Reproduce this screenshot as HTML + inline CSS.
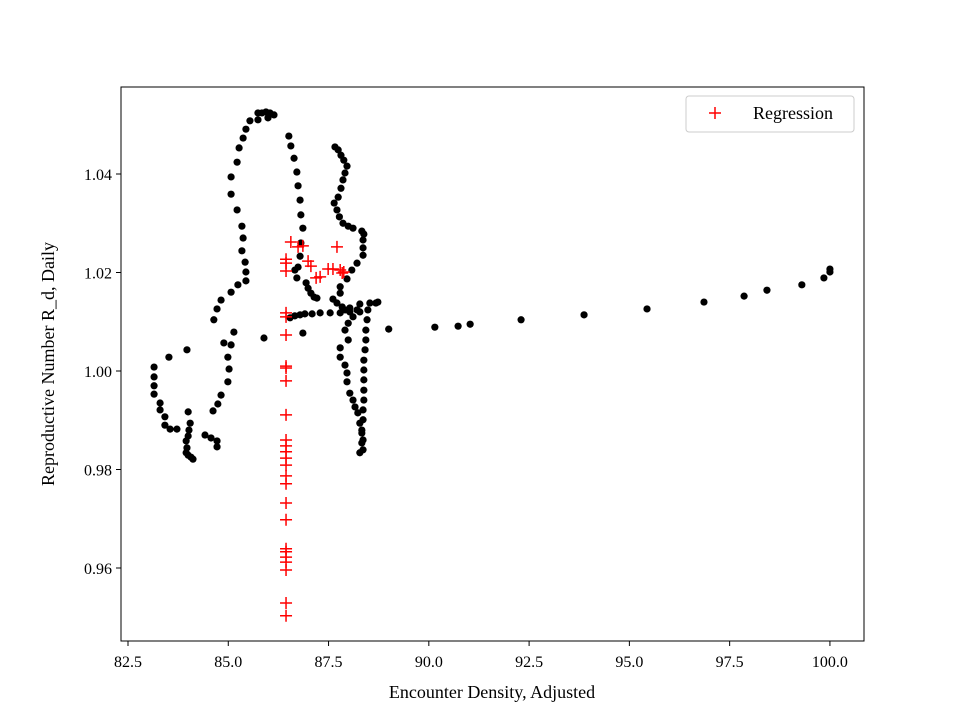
<!DOCTYPE html>
<html><head><meta charset="utf-8"><style>
body{margin:0;background:#fff}
text{font-family:"Liberation Serif",serif;fill:#000}
</style></head><body>
<svg id="chart" width="960" height="720" xmlns="http://www.w3.org/2000/svg">
<rect width="960" height="720" fill="#fff"/>
<g id="marks"></g>
<rect x="121" y="87" width="743" height="554" fill="none" stroke="#000" stroke-width="1"/>
<g id="axes"></g>
<text x="492" y="698" text-anchor="middle" font-size="18">Encounter Density, Adjusted</text>
<text transform="translate(54,364) rotate(-90)" text-anchor="middle" font-size="18">Reproductive Number R_d, Daily</text>
<g>
<rect x="686" y="96" width="168" height="36" rx="3" fill="#fff" stroke="#ccc"/>
<path d="M709 113h12M715 107v12" stroke="#f00" stroke-width="1.5"/>
<text x="753" y="119" font-size="18">Regression</text>
</g>
</svg>
<script>
const blackX=[85.74,85.84,85.94,86.04,86.14,85.74,85.99,85.54,85.44,85.37,85.27,85.22,85.07,85.07,85.22,85.34,85.37,85.34,85.42,85.44,85.44,85.24,85.07,84.82,84.72,84.64,84.89,85.07,84.99,85.02,84.99,84.82,84.74,84.62,85.14,
83.15,83.15,83.15,83.15,83.30,83.30,83.42,83.42,83.55,83.72,84.0,84.05,84.02,84.0,83.95,83.97,84.0,84.07,84.12,83.95,84.42,84.57,84.72,84.72,83.52,83.97,85.89,86.86,
86.51,86.56,86.64,86.71,86.74,86.79,86.81,86.86,86.81,86.79,86.74,86.66,86.71,86.94,86.99,87.06,87.14,87.21,
86.54,86.66,86.79,86.91,87.09,87.29,87.54,87.79,88.03,88.28,
87.66,87.74,87.81,87.88,87.96,87.91,87.86,87.81,87.74,87.64,87.71,87.77,87.86,87.99,88.11,88.33,88.38,88.36,88.36,88.36,88.21,88.08,87.96,87.79,87.79,87.61,87.71,87.84,87.91,88.03,88.28,88.21,88.11,87.99,87.91,87.99,87.79,87.79,87.91,87.96,87.96,88.03,88.11,88.16,88.23,88.28,88.33,88.33,88.28,
88.53,88.68,88.73,88.48,88.46,88.43,88.43,88.41,88.38,88.38,88.38,88.38,88.38,88.36,88.36,88.33,88.36,88.36,89.0,
90.15,90.73,91.03,92.30,93.87,95.44,96.86,97.86,98.43,99.30,99.85,100.0,100.0];
const blackY=[1.0524,1.0524,1.0526,1.0524,1.0520,1.0510,1.0514,1.0508,1.0491,1.0473,1.0453,1.0424,1.0394,1.0359,1.0327,1.0294,1.0270,1.0244,1.0221,1.0201,1.0183,1.0175,1.0160,1.0144,1.0126,1.0104,1.0057,1.0053,1.0028,1.0004,0.9978,0.9951,0.9933,0.9919,1.0079,
1.0008,0.9988,0.9970,0.9953,0.9935,0.9921,0.9907,0.9890,0.9882,0.9882,0.9917,0.9894,0.9880,0.9868,0.9858,0.9844,0.9829,0.9825,0.9821,0.9834,0.9870,0.9864,0.9858,0.9846,1.0028,1.0043,1.0067,1.0077,
1.0477,1.0457,1.0432,1.0404,1.0376,1.0347,1.0317,1.0290,1.0260,1.0233,1.0211,1.0205,1.0189,1.0179,1.0168,1.0158,1.0150,1.0148,
1.0108,1.0112,1.0114,1.0116,1.0116,1.0118,1.0118,1.0118,1.0120,1.0120,
1.0455,1.0449,1.0438,1.0428,1.0416,1.0402,1.0388,1.0371,1.0353,1.0341,1.0327,1.0313,1.0300,1.0294,1.0290,1.0284,1.0278,1.0266,1.0250,1.0235,1.0219,1.0205,1.0187,1.0171,1.0158,1.0146,1.0138,1.0130,1.0124,1.0128,1.0136,1.0124,1.0110,1.0097,1.0083,1.0063,1.0047,1.0028,1.0012,0.9996,0.9978,0.9955,0.9941,0.9927,0.9915,0.9894,0.9874,0.9854,0.9834,
1.0138,1.0138,1.0140,1.0124,1.0104,1.0083,1.0063,1.0043,1.0022,1.0002,0.9982,0.9961,0.9941,0.9921,0.9901,0.9880,0.9860,0.9840,1.0085,
1.0089,1.0091,1.0095,1.0104,1.0114,1.0126,1.0140,1.0152,1.0164,1.0175,1.0189,1.0201,1.0207];
const redX=[86.44,86.44,86.44,86.44,86.44,86.44,86.44,86.44,86.44,86.44,86.44,86.44,86.44,86.44,86.44,86.44,86.44,86.44,86.44,86.44,86.44,86.44,86.44,86.44,86.44,86.44,
86.56,86.74,86.86,86.99,87.06,87.19,87.29,87.49,87.61,87.71,87.79,87.84,87.88];
const redY=[0.9503,0.9529,0.9596,0.9612,0.9622,0.9633,0.9639,0.9698,0.9732,0.9771,0.9787,0.9809,0.9823,0.9836,0.9848,0.9860,0.9911,0.9980,1.0006,1.0010,1.0073,1.0110,1.0118,1.0203,1.0219,1.0227,
1.0262,1.0252,1.0254,1.0223,1.0213,1.0189,1.0191,1.0207,1.0207,1.0252,1.0205,1.0199,1.0201];
const xTicks=[82.5,85.0,87.5,90.0,92.5,95.0,97.5,100.0];
const xTickLabels=["82.5","85.0","87.5","90.0","92.5","95.0","97.5","100.0"];
const yTicks=[0.96,0.98,1.00,1.02,1.04];
const yTickLabels=["0.96","0.98","1.00","1.02","1.04"];
const NS="http://www.w3.org/2000/svg";
function sx(v){return 128+(v-82.5)*40.11;}
function sy(v){return 371-(v-1.0)*4925;}
const marks=document.getElementById('marks'),axes=document.getElementById('axes');
blackX.forEach((x,i)=>{const c=document.createElementNS(NS,'circle');
c.setAttribute('cx',sx(x));c.setAttribute('cy',sy(blackY[i]));c.setAttribute('r',3.6);c.setAttribute('fill','#000');


marks.appendChild(c);});
redX.forEach((x,i)=>{const p=document.createElementNS(NS,'path');const px=sx(x),py=sy(redY[i]);
p.setAttribute('d',`M${px-6} ${py}h12M${px} ${py-6}v12`);p.setAttribute('stroke','#f00');p.setAttribute('stroke-width','1.5');p.setAttribute('fill','none');


marks.appendChild(p);});
xTicks.forEach((t,i)=>{const x=sx(t);const l=document.createElementNS(NS,'line');
l.setAttribute('x1',x);l.setAttribute('x2',x);l.setAttribute('y1',641);l.setAttribute('y2',646);l.setAttribute('stroke','#000');


axes.appendChild(l);
const tx=document.createElementNS(NS,'text');tx.setAttribute('x',x);tx.setAttribute('y',667);tx.setAttribute('text-anchor','middle');tx.setAttribute('font-size','16');tx.textContent=xTickLabels[i];


axes.appendChild(tx);});
yTicks.forEach((t,i)=>{const y=sy(t);const l=document.createElementNS(NS,'line');
l.setAttribute('x1',116);l.setAttribute('x2',121);l.setAttribute('y1',y);l.setAttribute('y2',y);l.setAttribute('stroke','#000');


axes.appendChild(l);
const tx=document.createElementNS(NS,'text');tx.setAttribute('x',112);tx.setAttribute('y',y+6);tx.setAttribute('text-anchor','end');tx.setAttribute('font-size','16');tx.textContent=yTickLabels[i];


axes.appendChild(tx);});
</script>
</body></html>
